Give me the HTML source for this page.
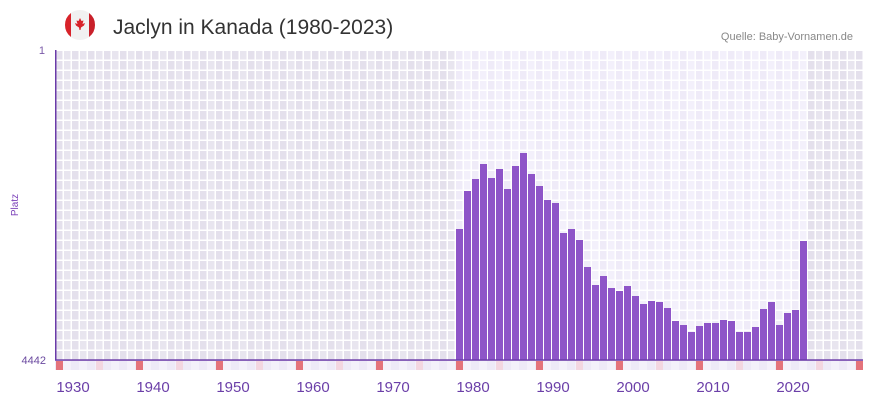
<!DOCTYPE html>
<html><head><meta charset="utf-8"><style>
body{margin:0;background:#fff;width:873px;height:402px;overflow:hidden;font-family:"Liberation Sans",sans-serif}
</style></head><body>
<svg id="s" width="873" height="402" xmlns="http://www.w3.org/2000/svg">
<circle cx="80" cy="25" r="15" fill="#f1f1f1"/>
<path d="M65 25 A15 15 0 0 1 71 13 L71 37 A15 15 0 0 1 65 25Z" fill="#d8232a"/>
<path d="M95 25 A15 15 0 0 1 89 37 L89 13 A15 15 0 0 1 95 25Z" fill="#c9202a"/>
<path d="M80 18 L81.5 21 L83.5 20.5 L82.5 24 L85 23 L84 25.5 L81 27.5 L80.5 30 L79.5 30 L79 27.5 L76 25.5 L75 23 L77.5 24 L76.5 20.5 L78.5 21Z" fill="#d8232a"/>
<text x="113" y="34" font-size="21" fill="#333" font-family="Liberation Sans, sans-serif">Jaclyn in Kanada (1980-2023)</text>
<text x="853" y="40" font-size="11" fill="#888" text-anchor="end">Quelle: Baby-Vornamen.de</text>
<text x="45" y="54" font-size="11" fill="#7a5aa8" text-anchor="end">1</text>
<text x="46" y="364" font-size="11" fill="#6b4aa0" text-anchor="end">4442</text>
<text x="18" y="205" font-size="10" fill="#7a3fb8" text-anchor="middle" transform="rotate(-90 18 205)">Platz</text>
<g id="g"></g>
</svg>
<script>
var g=document.getElementById('g'),h='';
function r(x,y,w,hh,c){h+='<rect x="'+x+'" y="'+y+'" width="'+w+'" height="'+hh+'" fill="'+c+'"/>';}
r(55,50,808,320,'#e4e0ec');
r(455,50,353,310,'#efebf8');
for(var k=0;k<101;k++){var x=55+8*k;if(x>=863)break;
 var inM=x>=455&&x<808;
 if(k%2==1)r(x,50,8,310,inM?'#f3f0fb':'#e8e5ef');
 r(x,360,8,10,k%2?'#f4f1fa':'#eeeaf7');
 if(k%10==0)r(x+1,360,7,10,'#e4737b'); else if(k%10==5)r(x+1,360,7,10,'#f3d6e0');
}
for(var k=0;k<=101;k++){var x=55+8*k;if(x>863)break;r(x-0.5,50,1.5,310,'#fff');}
for(var y=50;y<=360;y+=10)r(55,y-0.5,808,1.5,'#fff');
var t=[229,191,179,164,178,169,189,166,153,174,186,200,203,233,229,240,267,285,276,288,291,286,296,304,301,302,308,321,325,332,326,323,323,320,321,332,332,327,309,302,325,313,310,241];
for(var i=0;i<t.length;i++)r(456+8*i,t[i],7,360-t[i],'#8e55c8');
r(55,50,1.5,310,'#6a3aa8');r(55,359.3,808,1.5,'#6a3aa8');
for(var y=1930;y<=2020;y+=10){var x=73+(y-1930)*8;h+='<text x="'+x+'" y="392" font-size="15" fill="#6b3fa8" text-anchor="middle" font-family="Liberation Sans, sans-serif">'+y+'</text>';}
g.innerHTML=h;
</script>
</body></html>
